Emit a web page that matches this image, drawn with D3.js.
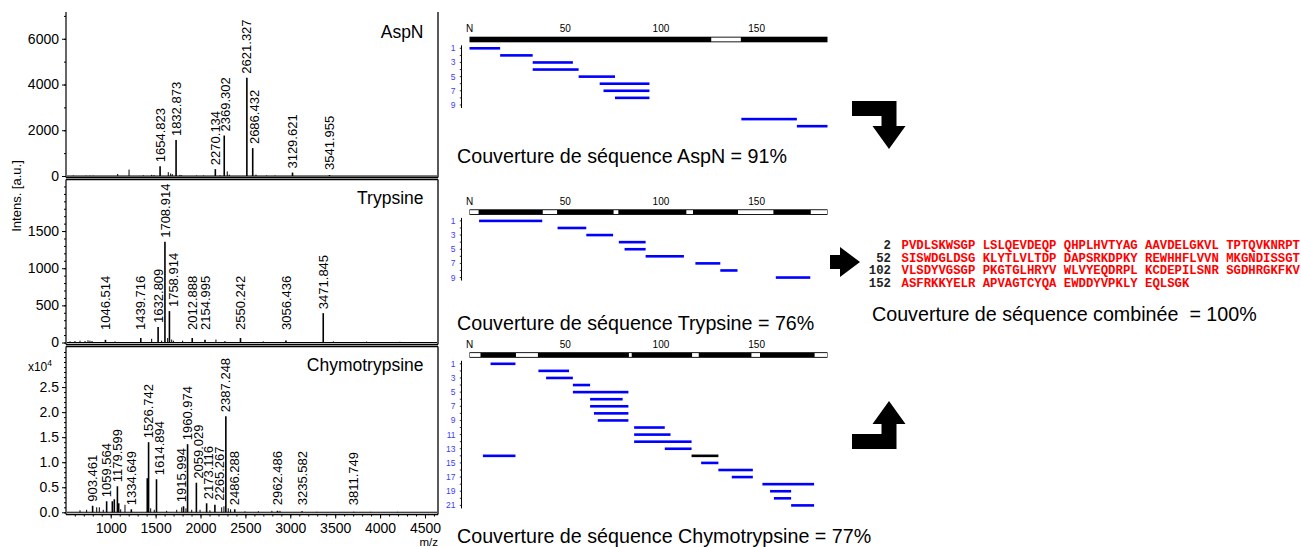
<!DOCTYPE html>
<html><head><meta charset="utf-8">
<script src="https://cdn.jsdelivr.net/npm/d3@7"></script>
<style>body{margin:0;background:#fff}svg{display:block}</style>
</head><body>
<svg id="c" width="1301" height="547"></svg>
<script>
// ---------------- DATA ----------------
// m/z values are the annotated masses; the traces in the reference are drawn ~105 Da left of their labels
const mzOffset = 105;
const mzTicks = [1000, 1500, 2000, 2500, 3000, 3500, 4000, 4500];

const aspnLabelMz  = [1654.823, 1832.873, 2270.134, 2369.302, 2621.327, 2686.432, 3129.621, 3541.955];
const aspnLabelInt = [430, 1570, 300, 1770, 4300, 1220, 150, 40];
const aspnMinorMz  = [688, 830, 874, 911, 1183, 1309, 1468, 1561, 1587, 1746, 1773, 1791, 1876, 1895, 2062, 2137, 2322, 2403, 2425, 2723, 2842, 2935];
const aspnMinorInt = [20, 15, 15, 15, 90, 280, 30, 50, 40, 170, 110, 80, 50, 30, 20, 20, 30, 200, 60, 60, 20, 20];
const aspnTicks = [0, 2000, 4000, 6000];

const trypLabelMz  = [1046.514, 1439.716, 1632.809, 1708.914, 1758.914, 2012.888, 2154.995, 2550.242, 3056.436, 3471.845];
const trypLabelInt = [36, 60, 210, 1355, 423, 60, 36, 60, 27, 395];
const trypMinorMz  = [652, 707, 763, 819, 852, 874, 897, 1153, 1561, 1672, 1739, 1784, 1803, 1906, 2277, 2377, 2804, 3584, 3955, 4326];
const trypMinorInt = [15, 20, 25, 20, 30, 25, 20, 15, 50, 25, 60, 40, 25, 25, 40, 20, 15, 15, 12, 10];
const trypTicks = [0, 500, 1000, 1500];

// chymotrypsin intensities in units of 10^4
const chymoLabelMz  = [903.461, 1059.564, 1179.599, 1334.649, 1526.742, 1614.894, 1915.994, 1960.974, 2059.029, 2173.116, 2265.267, 2387.248, 2486.288, 2962.486, 3235.582, 3811.749];
const chymoLabelInt = [0.13, 0.22, 0.52, 0.06, 1.40, 0.66, 0.12, 1.36, 0.59, 0.18, 0.15, 1.92, 0.06, 0.03, 0.02, 0.01];
const chymoMinorMz  = [763, 837, 949, 978, 1022, 1123, 1145, 1194, 1216, 1264, 1512, 1550, 1590, 1728, 1840, 1896, 1943, 2007, 2100, 2210, 2341, 2366, 2414, 2440, 2600, 2750, 2900, 2990, 3400, 4000, 4300];
const chymoMinorInt = [0.04, 0.05, 0.10, 0.10, 0.05, 0.22, 0.26, 0.18, 0.06, 0.15, 0.68, 0.08, 0.05, 0.03, 0.05, 0.10, 0.08, 0.05, 0.05, 0.04, 0.10, 0.12, 0.08, 0.06, 0.02, 0.02, 0.03, 0.03, 0.01, 0.01, 0.01];
const chymoTicks = [0, 0.5, 1.0, 1.5, 2.0, 2.5];

const panelNames = ["AspN", "Trypsine", "Chymotrypsine"];

// Peptide maps (residue ranges)
const proteinLength = 187;
const rulerTicks = [50, 100, 150];
const aspnPepStart = [1, 17, 34, 34, 58, 69, 71, 77, 143, 172];
const aspnPepEnd   = [16, 33, 54, 57, 76, 94, 94, 94, 171, 187];
const aspnPepRow   = [1, 2, 3, 4, 5, 6, 7, 8, 11, 12];
const aspnGapStart = [127];
const aspnGapEnd   = [142];

const trypPepStart = [6, 47, 62, 79, 82, 93, 119, 132, 161];
const trypPepEnd   = [38, 61, 75, 92, 92, 112, 131, 140, 178];
const trypPepRow   = [1, 2, 3, 4, 5, 6, 7, 8, 9];
const trypGapStart = [1, 39, 76, 114, 141, 179];
const trypGapEnd   = [5, 46, 78, 117, 159, 187];

const chymoPepStart = [12, 37, 41, 55, 55, 64, 64, 66, 68, 87, 87, 87, 103, 117, 8, 122, 131, 138, 154, 158, 160, 169];
const chymoPepEnd   = [24, 52, 54, 63, 83, 80, 83, 83, 83, 102, 105, 116, 116, 130, 24, 130, 148, 148, 180, 168, 168, 180];
const chymoPepRow   = [1, 2, 3, 4, 5, 6, 7, 8, 9, 10, 11, 12, 13, 14, 14, 15, 16, 17, 18, 19, 20, 21];
const chymoPepBlack = [117];   // start residue of the peptide drawn in black
const chymoGapStart = [1, 25, 84, 117, 148, 181];
const chymoGapEnd   = [6, 36, 85, 120, 152, 187];

const coverageTexts = ["Couverture de séquence AspN = 91%", "Couverture de séquence Trypsine = 76%", "Couverture de séquence Chymotrypsine = 77%"];
const combinedText = "Couverture de séquence combinée  = 100%";
const seqNumbers = ["2", "52", "102", "152"];
const seqLines = [
  "PVDLSKWSGP LSLQEVDEQP QHPLHVTYAG AAVDELGKVL TPTQVKNRPT",
  "SISWDGLDSG KLYTLVLTDP DAPSRKDPKY REWHHFLVVN MKGNDISSGT",
  "VLSDYVGSGP PKGTGLHRYV WLVYEQDRPL KCDEPILSNR SGDHRGKFKV",
  "ASFRKKYELR APVAGTCYQA EWDDYVPKLY EQLSGK"
];

// ---------------- DRAWING ----------------
const FONT = "Arial, 'Liberation Sans', Helvetica, sans-serif";
const MONO = "'Courier New', 'Liberation Mono', monospace";
const svg = d3.select("#c").attr("font-family", FONT);
svg.append("rect").attr("width", 1301).attr("height", 547).attr("fill", "#fff");

const x = d3.scaleLinear().domain([502, 4645]).range([66, 438]);
const plotL = 66, plotR = 438;

const panels = [
  {title: panelNames[0], top: 12, frameTop: null, frameBottom: 177.5, base: 176, max: 7170,
   lmz: aspnLabelMz, lint: aspnLabelInt, mmz: aspnMinorMz, mint: aspnMinorInt,
   ticks: aspnTicks, minor: d3.range(0, 7001, 1000), fmt: d => d, floor: 6, titleY: 38},
  {title: panelNames[1], top: 179.5, frameTop: 179.5, frameBottom: 344.5, base: 342.5, max: 2194,
   lmz: trypLabelMz, lint: trypLabelInt, mmz: trypMinorMz, mint: trypMinorInt,
   ticks: trypTicks, minor: d3.range(0, 2101, 100), fmt: d => d, floor: 12.5, titleY: 203.5},
  {title: panelNames[2], top: 346.5, frameTop: 346.5, frameBottom: 514.5, base: 512.3, max: 3.31,
   lmz: chymoLabelMz, lint: chymoLabelInt, mmz: chymoMinorMz, mint: chymoMinorInt,
   ticks: chymoTicks, minor: d3.range(0, 33).map(i => i / 10), fmt: d3.format(".1f"), floor: 7, titleY: 370.5}
];

panels.forEach((p, pi) => {
  const y = d3.scaleLinear().domain([0, p.max]).range([p.base, p.top]);
  const g = svg.append("g");
  // frame
  g.append("line").attr("x1", plotR).attr("x2", plotR).attr("y1", p.top).attr("y2", p.frameBottom).attr("stroke", "#000").attr("stroke-width", 1.3);
  g.append("line").attr("x1", plotL).attr("x2", plotR).attr("y1", p.frameBottom).attr("y2", p.frameBottom).attr("stroke", "#000").attr("stroke-width", 1.3);
  if (p.frameTop !== null)
    g.append("line").attr("x1", plotL).attr("x2", plotR).attr("y1", p.frameTop).attr("y2", p.frameTop).attr("stroke", "#000").attr("stroke-width", 1.3);
  g.append("line").attr("x1", plotL).attr("x2", plotL).attr("y1", p.top).attr("y2", p.frameBottom).attr("stroke", "#000").attr("stroke-width", 1.2);

  // y axis ticks
  const ax = d3.axisLeft(y).tickValues(p.ticks).tickSize(4).tickPadding(3).tickFormat(p.fmt);
  const ag = g.append("g").attr("transform", `translate(${plotL},0)`).call(ax);
  ag.select(".domain").remove();
  ag.selectAll("text").attr("font-size", 14).attr("font-family", FONT).attr("fill", "#000");
  const am = d3.axisLeft(y).tickValues(p.minor).tickSize(2).tickFormat("");
  const amg = g.append("g").attr("transform", `translate(${plotL},0)`).call(am);
  amg.select(".domain").remove();

  // trace
  const all = p.lmz.map((m, i) => ({mz: m, v: p.lint[i], lab: true}))
    .concat(p.mmz.map((m, i) => ({mz: m, v: p.mint[i], lab: false})))
    .sort((a, b) => a.mz - b.mz);
  g.append("line").attr("x1", plotL + 1).attr("x2", plotR - 1).attr("y1", p.base).attr("y2", p.base)
    .attr("stroke", "#000").attr("stroke-width", 1.1);
  g.selectAll("line.pk").data(all).enter().append("line").attr("class", "pk")
    .attr("x1", d => x(d.mz - mzOffset)).attr("x2", d => x(d.mz - mzOffset))
    .attr("y1", p.base).attr("y2", d => y(d.v))
    .attr("stroke", "#000").attr("stroke-width", d => d.lab || d.v > p.max * 0.05 ? 1.6 : 1);

  // labels
  const placed = [];
  const labs = all.filter(d => d.lab);
  labs.forEach(d => {
    const px = x(d.mz - mzOffset), top = y(d.v);
    const bottom = Math.min(top - 4, p.base - p.floor);
    const t = g.append("text").attr("font-size", 13).attr("fill", "#000").text(d3.format(".3f")(d.mz));
    const len = t.node().getComputedTextLength();
    let lx = px;
    for (let it = 0; it < 6; it++) {
      let moved = false;
      placed.forEach(L => {
        const vOverlap = !(bottom < L.bottom - L.len || bottom - len > L.bottom);
        if (vOverlap && Math.abs(lx - L.x) < 10.5) { lx = L.x + 10.5; moved = true; }
      });
      all.forEach(q => {
        if (q === d) return;
        const qx = x(q.mz - mzOffset), qt = y(q.v);
        if (qt < bottom && Math.abs(qx - lx) < 6) { lx = qx < lx ? qx + 8 : qx - 6; moved = true; }
      });
      if (!moved) break;
    }
    placed.push({x: lx, bottom: bottom, len: len});
    t.attr("transform", `translate(${lx + 4.6},${bottom}) rotate(-90)`);
  });

  // title
  g.append("text").attr("x", 423.5).attr("y", p.titleY).attr("text-anchor", "end").attr("font-size", 17.5).text(p.title);
});

// x10^4
const xe = svg.append("text").attr("x", 52).attr("y", 370.5).attr("text-anchor", "end").attr("font-size", 12);
xe.append("tspan").text("x10");
xe.append("tspan").attr("dy", -4.5).attr("font-size", 8.5).text("4");

// x axis
const xg = svg.append("g").attr("transform", "translate(0,514.5)");
xg.call(d3.axisBottom(x).tickValues(mzTicks).tickSize(4).tickPadding(5).tickFormat(d => d))
  .select(".domain").remove();
xg.selectAll("text").attr("font-size", 14).attr("font-family", FONT).attr("fill", "#000");
const xm = svg.append("g").attr("transform", "translate(0,514.5)")
  .call(d3.axisBottom(x).tickValues(d3.range(600, 4601, 100)).tickSize(2).tickFormat(""));
xm.select(".domain").remove();

svg.append("text").attr("x", 438).attr("y", 546).attr("text-anchor", "end").attr("font-size", 11.5).text("m/z");
svg.append("text").attr("transform", "translate(21,196) rotate(-90)").attr("text-anchor", "middle").attr("font-size", 13).text("Intens. [a.u.]");

// ---------------- PEPTIDE MAPS ----------------
const r = d3.scaleLinear().domain([0, proteinLength]).range([469.5, 827.5]);
const rowStep = 7.08;
const maps = [
  {rulerTop: 36.7, starts: aspnPepStart, ends: aspnPepEnd, rows: aspnPepRow, gs: aspnGapStart, ge: aspnGapEnd, nRows: 9, black: []},
  {rulerTop: 209.3, starts: trypPepStart, ends: trypPepEnd, rows: trypPepRow, gs: trypGapStart, ge: trypGapEnd, nRows: 9, black: []},
  {rulerTop: 352.2, starts: chymoPepStart, ends: chymoPepEnd, rows: chymoPepRow, gs: chymoGapStart, ge: chymoGapEnd, nRows: 21, black: chymoPepBlack}
];
maps.forEach(m => {
  const g = svg.append("g");
  const rh = 5.6;
  g.append("rect").attr("x", r(0)).attr("y", m.rulerTop).attr("width", r(proteinLength) - r(0)).attr("height", rh).attr("fill", "#000");
  g.selectAll("rect.gap").data(m.gs).enter().append("rect").attr("class", "gap")
    .attr("x", (d, i) => r(d - 1) + 0.5).attr("y", m.rulerTop + 0.9)
    .attr("width", (d, i) => Math.max(1, r(m.ge[i]) - r(d - 1) - 1)).attr("height", rh - 1.8)
    .attr("fill", "#fff");
  // tick labels
  g.append("text").attr("x", r(0)).attr("y", m.rulerTop - 4.5).attr("text-anchor", "middle").attr("font-size", 10).text("N");
  g.selectAll("text.rt").data(rulerTicks).enter().append("text").attr("class", "rt")
    .attr("x", d => r(d)).attr("y", m.rulerTop - 4.5).attr("text-anchor", "middle").attr("font-size", 10).text(d => d);
  const row1 = m.rulerTop + rh + 6;
  const ry = k => row1 + (k - 1) * rowStep;
  // bracket
  g.append("line").attr("x1", 461.5).attr("x2", 461.5).attr("y1", ry(1) - 3).attr("y2", ry(m.nRows) + 3).attr("stroke", "#000").attr("stroke-width", 1);
  g.selectAll("line.bt").data(d3.range(1, m.nRows + 1)).enter().append("line").attr("class", "bt")
    .attr("x1", 459.8).attr("x2", 461.5).attr("y1", ry).attr("y2", ry).attr("stroke", "#000").attr("stroke-width", 0.8);
  g.selectAll("text.rl").data(d3.range(1, m.nRows + 1, 2)).enter().append("text").attr("class", "rl")
    .attr("x", 455.5).attr("y", d => ry(d) + 3).attr("text-anchor", "end").attr("font-size", 8.5).attr("fill", "#3c3cff").text(d => d);
  // peptides
  g.selectAll("rect.pep").data(m.starts).enter().append("rect").attr("class", "pep")
    .attr("x", d => r(d - 1)).attr("y", (d, i) => ry(m.rows[i]) - 1.3)
    .attr("width", (d, i) => r(m.ends[i]) - r(d - 1)).attr("height", 2.6)
    .attr("fill", (d, i) => m.black.includes(d) ? "#000" : "#0000ff");
});

// coverage texts
const covY = [163, 329.5, 543];
svg.selectAll("text.cov").data(coverageTexts).enter().append("text").attr("class", "cov")
  .attr("x", 457).attr("y", (d, i) => covY[i]).attr("font-size", 19.7).text(d => d);
svg.append("text").attr("x", 872).attr("y", 320.5).attr("font-size", 19.7).style("white-space", "pre").text(combinedText);

// sequence block
const sg = svg.append("g").attr("font-family", MONO).attr("font-weight", "bold").attr("font-size", 12.3);
seqNumbers.forEach((n, i) => {
  sg.append("text").attr("x", 891).attr("y", 249 + i * 12.5).attr("text-anchor", "end").attr("fill", "#222").text(n);
  sg.append("text").attr("x", 901.5).attr("y", 249 + i * 12.5).attr("fill", "#ff0000").style("white-space", "pre").text(seqLines[i]);
});

// arrows
function bentArrow(tx, ty, dir) { // dir 1 = pointing down, -1 = pointing up
  const pts = [[-37, -48], [7.5, -48], [7.5, -23], [16.5, -23], [0, 0], [-16.5, -23], [-7.5, -23], [-7.5, -33], [-37, -33]];
  return pts.map(([a, b]) => [tx + a, ty + dir * b]);
}
svg.append("polygon").attr("points", bentArrow(889, 149, 1).join(" ")).attr("fill", "#000");
svg.append("polygon").attr("points", bentArrow(889, 401, -1).join(" ")).attr("fill", "#000");
const ra = [[-30, -7], [-20, -7], [-20, -15], [0, 0], [-20, 15], [-20, 7], [-30, 7]].map(([a, b]) => [860 + a, 262 + b]);
svg.append("polygon").attr("points", ra.join(" ")).attr("fill", "#000");
</script>
</body></html>
